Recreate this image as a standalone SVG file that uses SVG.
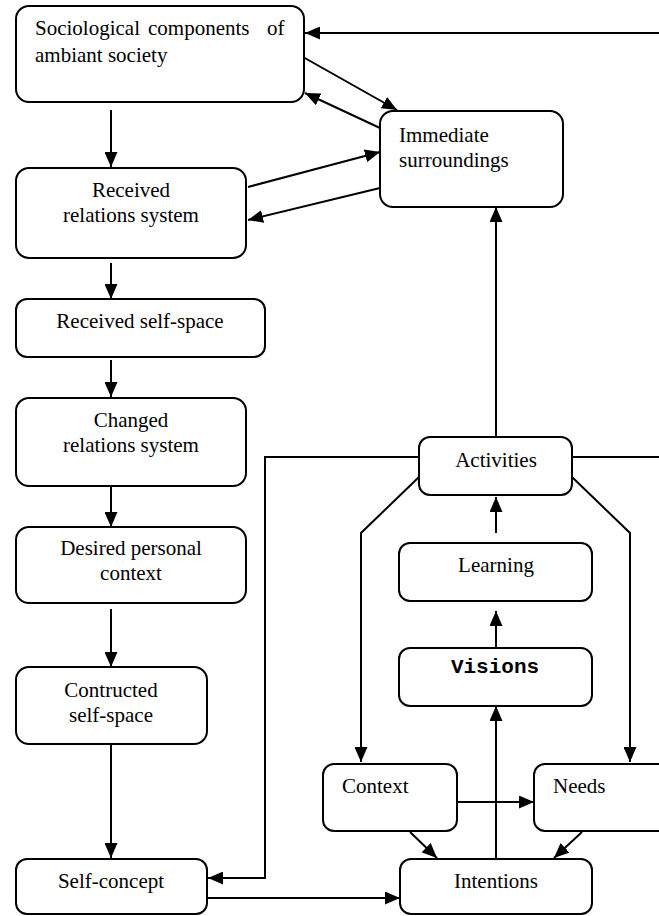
<svg xmlns="http://www.w3.org/2000/svg" width="659" height="916" viewBox="0 0 659 916">
<style>
.box{fill:#fff;stroke:#000;stroke-width:2}
.t{font-family:"Liberation Serif","Times New Roman",serif;font-size:21px;fill:#000}
.c{text-anchor:middle}
.mono{font-family:"Liberation Mono","Courier New",monospace;font-weight:bold;font-size:21px;fill:#000;text-anchor:middle}
.ln{fill:none;stroke:#000;stroke-width:2}
</style>
<defs>
<marker id="ah" markerUnits="userSpaceOnUse" markerWidth="15" markerHeight="13" refX="15" refY="6.5" orient="auto">
<path d="M0,0 L15,6.5 L0,13 z" fill="#000"/>
</marker>
</defs>
<rect width="659" height="916" fill="#fff"/>
<g id="connectors" class="ln">
<path d="M659,33 L305,33" marker-end="url(#ah)"/>
<path d="M303,57 L397,110" marker-end="url(#ah)"/>
<path d="M380,128 L305,93" marker-end="url(#ah)"/>
<path d="M111,110 L111,167" marker-end="url(#ah)"/>
<path d="M248,187 L380,152" marker-end="url(#ah)"/>
<path d="M380,188 L248,220" marker-end="url(#ah)"/>
<path d="M111,263 L111,299" marker-end="url(#ah)"/>
<path d="M111,360 L111,397" marker-end="url(#ah)"/>
<path d="M111,475 L111,527" marker-end="url(#ah)"/>
<path d="M111,609 L111,667" marker-end="url(#ah)"/>
<path d="M111,744 L111,858" marker-end="url(#ah)"/>
<path d="M496,437 L496,207" marker-end="url(#ah)"/>
<path d="M419,457 L265,457 L265,878 L208,878" marker-end="url(#ah)"/>
<path d="M572,457 L659,457"/>
<path d="M419,477 L361,533 L361,762" marker-end="url(#ah)"/>
<path d="M572,477 L630,533 L630,762" marker-end="url(#ah)"/>
<path d="M496,533 L496,497" marker-end="url(#ah)"/>
<path d="M496,648 L496,611" marker-end="url(#ah)"/>
<path d="M496,859 L496,706" marker-end="url(#ah)"/>
<path d="M457,802 L534,802" marker-end="url(#ah)"/>
<path d="M410,832 L437,858" marker-end="url(#ah)"/>
<path d="M582,832 L554,858" marker-end="url(#ah)"/>
<path d="M207,898 L400,898" marker-end="url(#ah)"/>
</g>
<g id="sociological">
<rect class="box" x="16" y="6" width="288" height="96" rx="13"/>
<text class="t" y="35"><tspan x="35">Sociological</tspan><tspan x="148">components</tspan><tspan x="267">of</tspan></text>
<text class="t" x="35" y="62">ambiant society</text>
</g>
<g id="immediate">
<rect class="box" x="380" y="111" width="183" height="96" rx="13"/>
<text class="t" x="399" y="142">Immediate</text>
<text class="t" x="399" y="167">surroundings</text>
</g>
<g id="received-relations">
<rect class="box" x="16" y="168" width="230" height="90" rx="13"/>
<text class="t c" x="131" y="197">Received</text>
<text class="t c" x="131" y="222">relations system</text>
</g>
<g id="received-self-space">
<rect class="box" x="16" y="299" width="249" height="58" rx="11"/>
<text class="t c" x="140" y="328">Received self-space</text>
</g>
<g id="changed-relations">
<rect class="box" x="16" y="398" width="230" height="88" rx="13"/>
<text class="t c" x="131" y="427">Changed</text>
<text class="t c" x="131" y="452">relations system</text>
</g>
<g id="desired-personal">
<rect class="box" x="16" y="527" width="230" height="76" rx="13"/>
<text class="t c" x="131" y="555">Desired personal</text>
<text class="t c" x="131" y="580">context</text>
</g>
<g id="constructed">
<rect class="box" x="16" y="667" width="191" height="77" rx="13"/>
<text class="t c" x="111" y="697">Contructed</text>
<text class="t c" x="111" y="722">self-space</text>
</g>
<g id="self-concept">
<rect class="box" x="16" y="859" width="191" height="55" rx="11"/>
<text class="t c" x="111" y="888">Self-concept</text>
</g>
<g id="activities">
<rect class="box" x="419" y="437" width="153" height="58" rx="11"/>
<text class="t c" x="496" y="467">Activities</text>
</g>
<g id="learning">
<rect class="box" x="399" y="543" width="193" height="58" rx="11"/>
<text class="t c" x="496" y="572">Learning</text>
</g>
<g id="visions">
<rect class="box" x="399" y="648" width="193" height="58" rx="11"/>
<text class="mono" x="495" y="673">Visions</text>
</g>
<g id="context">
<rect class="box" x="323" y="764" width="134" height="67" rx="11"/>
<text class="t" x="342" y="793">Context</text>
</g>
<g id="needs">
<rect class="box" x="534" y="764" width="150" height="67" rx="11"/>
<text class="t" x="553" y="793">Needs</text>
</g>
<g id="intentions">
<rect class="box" x="400" y="859" width="192" height="55" rx="11"/>
<text class="t c" x="496" y="888">Intentions</text>
</g>
</svg>
